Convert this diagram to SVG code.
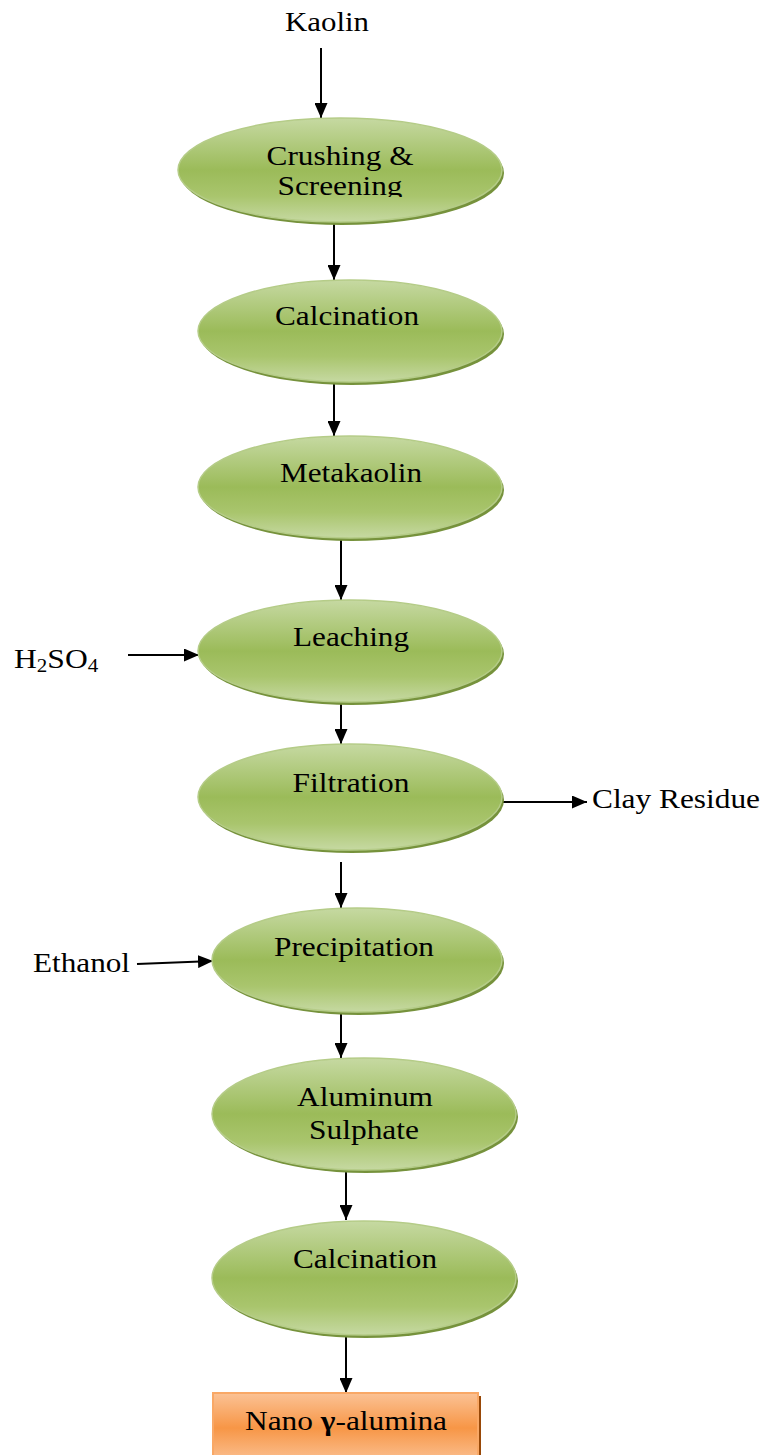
<svg xmlns="http://www.w3.org/2000/svg" width="765" height="1455" viewBox="0 0 765 1455">
<style>
text{font-family:"Liberation Serif","Times New Roman",serif;font-size:27px;fill:#000}
.node{fill:url(#gg);stroke:#b5cc88;stroke-width:1.5}
.sh{fill:#76923c}
.rect{fill:url(#og);stroke:#f9a866;stroke-width:2}
.ln{stroke:#000;stroke-width:2;fill:none;marker-end:url(#ah)}
</style>
<defs>
<linearGradient id="gg" x1="0" y1="0" x2="0" y2="1">
<stop offset="0" stop-color="#c6d9a2"/>
<stop offset="0.5" stop-color="#9bbb59"/>
<stop offset="0.75" stop-color="#a9c56d"/>
<stop offset="1" stop-color="#c6d9a2"/>
</linearGradient>
<linearGradient id="og" x1="0" y1="0" x2="0" y2="1">
<stop offset="0" stop-color="#fbc295"/>
<stop offset="0.5" stop-color="#f79646"/>
<stop offset="1" stop-color="#fbc295"/>
</linearGradient>
<marker id="ah" viewBox="0 0 15 13" refX="15" refY="6.5" markerWidth="15" markerHeight="13" markerUnits="userSpaceOnUse" orient="auto">
<path d="M0,0 L15,6.5 L0,13 Z" fill="#000"/>
</marker>
<clipPath id="c1t"><rect x="170" y="110" width="340" height="87"/></clipPath>
</defs>

<g id="connectors">
<line class="ln" x1="321" y1="48" x2="321" y2="118"/>
<line class="ln" x1="334" y1="224" x2="334" y2="280"/>
<line class="ln" x1="334" y1="382" x2="334" y2="436"/>
<line class="ln" x1="341" y1="538" x2="341" y2="600"/>
<line class="ln" x1="341" y1="702" x2="341" y2="744"/>
<line class="ln" x1="341" y1="862" x2="341" y2="908"/>
<line class="ln" x1="341" y1="1012" x2="341" y2="1058"/>
<line class="ln" x1="346" y1="1170" x2="346" y2="1220"/>
<line class="ln" x1="346" y1="1334" x2="346" y2="1393"/>
<line class="ln" x1="128" y1="655" x2="199" y2="655"/>
<line class="ln" x1="502" y1="802" x2="587" y2="802"/>
<line class="ln" x1="137" y1="964" x2="213" y2="961"/>
</g>

<g id="kaolin"><text x="327" y="31" text-anchor="middle" textLength="84" lengthAdjust="spacingAndGlyphs">Kaolin</text></g>

<g id="crushing">
<ellipse class="sh" cx="342" cy="173" rx="162" ry="52"/>
<ellipse class="node" cx="340" cy="170" rx="162" ry="52"/>
<text x="340" y="165" text-anchor="middle" textLength="147" lengthAdjust="spacingAndGlyphs">Crushing &amp;</text>
<text x="340" y="195" text-anchor="middle" textLength="125" lengthAdjust="spacingAndGlyphs" clip-path="url(#c1t)">Screening</text>
</g>

<g id="calcination1">
<ellipse class="sh" cx="352" cy="334" rx="152" ry="51"/>
<ellipse class="node" cx="350" cy="331" rx="152" ry="51"/>
<text x="347" y="325" text-anchor="middle" textLength="144" lengthAdjust="spacingAndGlyphs">Calcination</text>
</g>

<g id="metakaolin">
<ellipse class="sh" cx="352" cy="490" rx="152" ry="51"/>
<ellipse class="node" cx="350" cy="487" rx="152" ry="51"/>
<text x="351" y="482" text-anchor="middle" textLength="142" lengthAdjust="spacingAndGlyphs">Metakaolin</text>
</g>

<g id="leaching">
<ellipse class="sh" cx="352" cy="654" rx="152" ry="51"/>
<ellipse class="node" cx="350" cy="651" rx="152" ry="51"/>
<text x="351" y="646" text-anchor="middle" textLength="116" lengthAdjust="spacingAndGlyphs">Leaching</text>
</g>

<g id="filtration">
<ellipse class="sh" cx="352" cy="800" rx="152" ry="53"/>
<ellipse class="node" cx="350" cy="797" rx="152" ry="53"/>
<text x="351" y="792" text-anchor="middle" textLength="117" lengthAdjust="spacingAndGlyphs">Filtration</text>
</g>

<g id="precipitation">
<ellipse class="sh" cx="359" cy="963" rx="145" ry="52"/>
<ellipse class="node" cx="357" cy="960" rx="145" ry="52"/>
<text x="354" y="956" text-anchor="middle" textLength="160" lengthAdjust="spacingAndGlyphs">Precipitation</text>
</g>

<g id="aluminum">
<ellipse class="sh" cx="366" cy="1117" rx="152" ry="56"/>
<ellipse class="node" cx="364" cy="1114" rx="152" ry="56"/>
<text x="365" y="1106" text-anchor="middle" textLength="136" lengthAdjust="spacingAndGlyphs">Aluminum</text>
<text x="364" y="1139" text-anchor="middle" textLength="110" lengthAdjust="spacingAndGlyphs">Sulphate</text>
</g>

<g id="calcination2">
<ellipse class="sh" cx="366" cy="1281" rx="152" ry="57"/>
<ellipse class="node" cx="364" cy="1278" rx="152" ry="57"/>
<text x="365" y="1268" text-anchor="middle" textLength="144" lengthAdjust="spacingAndGlyphs">Calcination</text>
</g>

<g id="nano">
<rect x="216" y="1396" width="265" height="70" fill="#984807"/>
<rect class="rect" x="213" y="1393" width="265" height="70"/>
<text x="346" y="1430" text-anchor="middle" textLength="202" lengthAdjust="spacingAndGlyphs">Nano <tspan font-weight="bold">γ</tspan>-alumina</text>
</g>

<g id="h2so4" transform="translate(14,668) scale(1.17,1)"><text x="0" y="0">H<tspan font-size="18" dy="4">2</tspan><tspan dy="-4">SO</tspan><tspan font-size="18" dy="4">4</tspan></text></g>
<g id="clay"><text x="592" y="808" textLength="168" lengthAdjust="spacingAndGlyphs">Clay Residue</text></g>
<g id="ethanol"><text x="33" y="972" textLength="97" lengthAdjust="spacingAndGlyphs">Ethanol</text></g>
</svg>
